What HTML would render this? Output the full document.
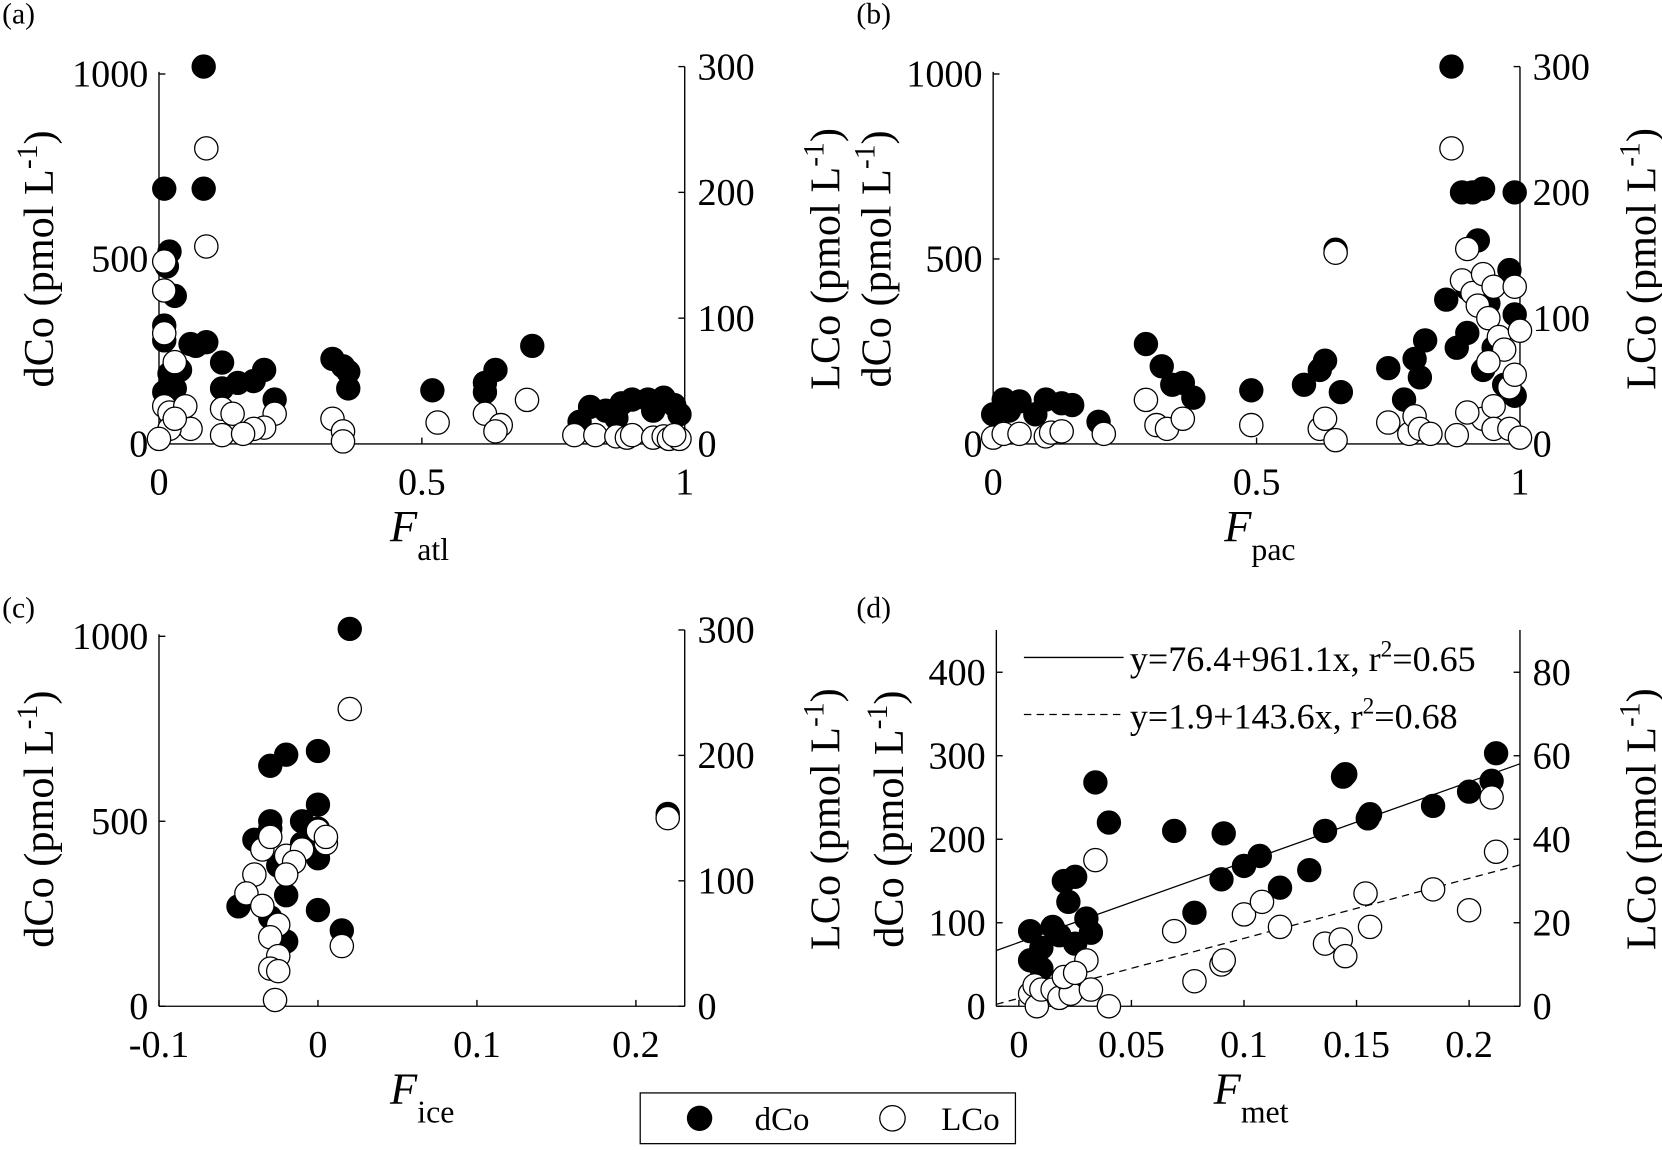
<!DOCTYPE html>
<html><head><meta charset="utf-8"><style>
html,body{margin:0;padding:0;background:#fff;}
svg{display:block;font-family:"Liberation Serif",serif;}
</style></head><body>
<svg id="fig" width="1662" height="1150" viewBox="0 0 1568 1088" preserveAspectRatio="none" xmlns="http://www.w3.org/2000/svg"></svg>
<script>
// ---- data ----
const atlD_x=[0.085,0.01,0.085,0.02,0.015,0.03,0.01,0.01,0.06,0.09,0.07,0.12,0.15,0.2,0.22,0.18,0.12,0.04,0.02,0.01,0.03,0.33,0.35,0.36,0.36,0.52,0.62,0.64,0.71,0.62,0.8,0.82,0.85,0.88,0.9,0.93,0.96,0.98,0.99,0.87,0.94];
const atlD_y=[1020,690,690,520,480,400,320,280,270,275,265,220,165,200,120,170,150,200,190,140,150,230,210,195,150,145,165,200,265,140,60,100,90,110,120,120,125,105,80,70,90];
const atlL_x=[0.09,0.09,0.01,0.01,0.01,0.03,0.01,0.02,0.05,0.06,0.02,0.0,0.03,0.12,0.14,0.22,0.2,0.18,0.12,0.16,0.33,0.35,0.35,0.53,0.62,0.65,0.64,0.7,0.79,0.83,0.87,0.89,0.9,0.94,0.96,0.97,0.99,0.98];
const atlL_y=[235,157,145,122,88,65,30,25,30,12,12,4,20,28,24,24,13,12,7,8,20,10,2,17,24,15,10,35,7,7,6,5,7,5,6,4,4,7];
const pacD_x=[0.0,0.02,0.05,0.1,0.13,0.15,0.2,0.03,0.08,0.29,0.32,0.34,0.36,0.38,0.49,0.59,0.62,0.63,0.65,0.66,0.75,0.78,0.8,0.82,0.81,0.87,0.89,0.91,0.93,0.99,0.92,0.98,0.99,0.88,0.9,0.93,0.95,0.97,0.99,0.86,0.9,0.94];
const pacD_y=[80,120,115,120,110,105,60,90,80,270,210,160,165,125,145,160,200,225,525,140,205,120,230,280,180,1020,680,680,690,680,550,470,350,260,300,200,260,160,130,390,420,380];
const pacL_x=[0,0.02,0.05,0.1,0.11,0.13,0.21,0.29,0.31,0.33,0.36,0.49,0.62,0.63,0.65,0.65,0.75,0.79,0.8,0.81,0.83,0.87,0.88,0.89,0.9,0.91,0.92,0.93,0.94,0.95,0.96,0.97,0.98,0.99,1.0,0.99,0.93,0.95,0.9,0.95,0.98,1.0,0.94];
const pacL_y=[5,8,8,6,9,10,8,35,15,12,20,15,12,20,3,152,17,8,22,12,8,235,7,130,155,120,110,135,100,125,85,75,45,125,90,55,20,30,25,12,12,5,65];
const iceD_x=[0.02,-0.03,-0.02,0.0,-0.04,-0.03,-0.03,-0.01,0.0,0.0,-0.05,-0.02,-0.03,0.0,0.015,-0.02,0.0,0.22,-0.01,-0.025];
const iceD_y=[1020,650,680,690,450,480,500,500,480,545,270,300,240,260,205,175,400,520,440,380];
const iceL_x=[0.02,0.22,-0.035,-0.03,-0.02,-0.01,0.0,0.005,0.005,-0.015,-0.04,-0.045,-0.035,-0.025,-0.03,-0.025,-0.03,-0.025,-0.027,0.015,-0.02];
const iceL_y=[237,150,125,135,120,125,140,130,135,115,105,90,80,65,55,40,30,28,5,48,105];
const metD_x=[0.005,0.005,0.01,0.01,0.015,0.018,0.02,0.025,0.022,0.03,0.032,0.025,0.034,0.04,0.069,0.078,0.09,0.091,0.1,0.107,0.116,0.129,0.136,0.144,0.145,0.155,0.156,0.184,0.2,0.21,0.212];
const metD_y=[90,55,45,70,95,85,150,155,125,105,88,75,268,220,210,112,152,207,168,180,142,163,210,275,278,225,230,240,257,270,303];
const metL_x=[0.034,0.005,0.007,0.008,0.01,0.015,0.018,0.022,0.023,0.03,0.032,0.04,0.069,0.078,0.09,0.091,0.1,0.108,0.116,0.136,0.143,0.145,0.154,0.156,0.184,0.2,0.21,0.212,0.02,0.025];
const metL_y=[35,3,5,0,4,4,2,6,3,11,4,0,18,6,10,11,22,25,19,15,16,12,27,19,28,23,50,37,7,8];
const fitD=[76.4,961.1], fitL=[1.9,143.6];

const svg=document.getElementById('fig');
const NS='http://www.w3.org/2000/svg';
function mk(tag,attrs,parent,text){const e=document.createElementNS(NS,tag);for(const k in attrs)e.setAttribute(k,attrs[k]);if(text!==undefined)e.textContent=text;(parent||svg).appendChild(e);return e;}

function panel(p){
  const g=mk('g',{});
  
  
  const X=v=>p.px0+(v-p.x0)*(p.px1-p.px0)/(p.x1-p.x0);
  const YD=v=>p.ybot-(v-p.dmin)*p.dk;
  const YL=v=>p.ybot-(v-p.lmin)*p.lk;
  const S={stroke:'#000','stroke-width':1.3,fill:'none'};
  const la=mk('line',Object.assign({x1:p.axL,y1:p.ybot,x2:p.axL,y2:p.ytopL},S),g);
  
  const ra=mk('line',Object.assign({x1:p.axR,y1:p.ybot,x2:p.axR,y2:p.ytopR},S),g);
  
  const ba=mk('line',Object.assign({x1:p.axL,y1:p.ybot,x2:p.axR,y2:p.ybot},S),g);
  
  p.xt.forEach((v,i)=>{const x=X(v);
    mk('line',Object.assign({x1:x,y1:p.ybot,x2:x,y2:p.ybot-6},S),g);
    const t=mk('text',{x:x,y:p.ybot+48,'text-anchor':'middle','font-size':36},g,p.xtl[i]);
    });
  p.dt.forEach(v=>{const y=YD(v);
    mk('line',Object.assign({x1:p.axL,y1:y,x2:p.axL+6,y2:y},S),g);
    const t=mk('text',{x:p.axL-10,y:y+12,'text-anchor':'end','font-size':36},g,String(v));
    });
  p.lt.forEach(v=>{const y=YL(v);
    mk('line',Object.assign({x1:p.axR,y1:y,x2:p.axR-6,y2:y},S),g);
    const t=mk('text',{x:p.axR+12,y:y+12,'text-anchor':'start','font-size':36},g,String(v));
    });
  const pl=mk('text',{x:p.lx,y:p.ly,'font-size':28},g,'('+p.id+')');
  
  const yl=mk('text',{transform:`translate(${p.ylx},${p.ycy}) rotate(-90)`,'text-anchor':'middle','font-size':40},g);
  
  yl.innerHTML='dCo (pmol L<tspan dy="-15" font-size="28">-1</tspan><tspan dy="15">)</tspan>';
  const yr=mk('text',{transform:`translate(${p.yrx},${p.ycy}) rotate(-90)`,'text-anchor':'middle','font-size':40},g);
  
  yr.innerHTML='LCo (pmol L<tspan dy="-15" font-size="28">-1</tspan><tspan dy="15">)</tspan>';
  const xl=mk('text',{x:p.xlx,y:p.ybot+92,'font-size':42},g);
  
  xl.innerHTML='<tspan font-style="italic">F</tspan><tspan dy="18" font-size="30">'+p.sub+'</tspan>';
  if(p.fit){
    const xa=p.x0, xb=p.x1;
    const l1=mk('line',{x1:X(xa),y1:YD(fitD[0]+fitD[1]*xa),x2:X(xb),y2:YD(fitD[0]+fitD[1]*xb),stroke:'#000','stroke-width':1.2},g);
    
    const l2=mk('line',{x1:X(xa),y1:YL(fitL[0]+fitL[1]*xa),x2:X(xb),y2:YL(fitL[0]+fitL[1]*xb),stroke:'#000','stroke-width':1.2,'stroke-dasharray':'7,5'},g);
    
  }
  p.dx.forEach((v,i)=>{const c=mk('circle',{cx:X(v),cy:YD(p.dy[i]),r:11,fill:'#000',stroke:'#000','stroke-width':1},g);
    });
  p.lx_.forEach((v,i)=>{const c=mk('circle',{cx:X(v),cy:YL(p.ly_[i]),r:11,fill:'#fff',stroke:'#000','stroke-width':1.2},g);
    });
}
const topCfg={ybot:420,dmin:0,dk:0.35,lmin:0,lk:357/300,ytopL:68,ytopR:63,dt:[0,500,1000],lt:[0,100,200,300],ly:22,ycy:245};
const botCfg={ybot:952,dmin:0,dk:0.35,lmin:0,lk:356/300,ytopL:600,ytopR:596,dt:[0,500,1000],lt:[0,100,200,300],ly:584,ycy:775};
panel(Object.assign({},topCfg,{id:'a',px0:150,px1:646,x0:0,x1:1,axL:150,axR:646,xt:[0,0.5,1],xtl:['0','0.5','1'],lx:2,ylx:50,yrx:792,xlx:368,sub:'atl',dx:atlD_x,dy:atlD_y,lx_:atlL_x,ly_:atlL_y}));
panel(Object.assign({},topCfg,{id:'b',px0:937,px1:1434,x0:0,x1:1,axL:937,axR:1434,xt:[0,0.5,1],xtl:['0','0.5','1'],lx:808,ylx:840,yrx:1562,xlx:1155,sub:'pac',dx:pacD_x,dy:pacD_y,lx_:pacL_x,ly_:pacL_y}));
panel(Object.assign({},botCfg,{id:'c',px0:150,px1:646,x0:-0.1,x1:0.2307,axL:150,axR:646,xt:[-0.1,0,0.1,0.2],xtl:['-0.1','0','0.1','0.2'],lx:2,ylx:50,yrx:792,xlx:368,sub:'ice',dx:iceD_x,dy:iceD_y,lx_:iceL_x,ly_:iceL_y}));
panel(Object.assign({},botCfg,{id:'d',px0:940,px1:1434,x0:-0.01,x1:0.2226,dk:0.79,lk:3.95,ytopL:596,ytopR:596,dt:[0,100,200,300,400],lt:[0,20,40,60,80],axL:940,axR:1434,xt:[0,0.05,0.1,0.15,0.2],xtl:['0','0.05','0.1','0.15','0.2'],lx:808,ylx:852,yrx:1562,xlx:1145,sub:'met',fit:true,dx:metD_x,dy:metD_y,lx_:metL_x,ly_:metL_y}));

const rl=mk('g',{});

mk('line',{x1:966,y1:622,x2:1060,y2:622,stroke:'#000','stroke-width':1.2},rl);
const r1=mk('text',{x:1066,y:635,'font-size':34},rl);r1.innerHTML='y=76.4+961.1x, r<tspan dy="-14" font-size="22">2</tspan><tspan dy="14">=0.65</tspan>';

mk('line',{x1:966,y1:676,x2:1060,y2:676,stroke:'#000','stroke-width':1.2,'stroke-dasharray':'7,5'},rl);
const r2=mk('text',{x:1066,y:689,'font-size':34},rl);r2.innerHTML='y=1.9+143.6x, r<tspan dy="-14" font-size="22">2</tspan><tspan dy="14">=0.68</tspan>';


const lg=mk('g',{});

mk('rect',{x:604,y:1034,width:354,height:48,fill:'#fff',stroke:'#000','stroke-width':1.2},lg);
const e1=mk('circle',{cx:660,cy:1058,r:12,fill:'#000'},lg);

const t1=mk('text',{x:712,y:1069,'font-size':31},lg,'dCo');

const e2=mk('circle',{cx:842,cy:1058,r:12,fill:'#fff',stroke:'#000','stroke-width':1.2},lg);

const t2=mk('text',{x:888,y:1069,'font-size':31},lg,'LCo');

</script>
</body></html>
